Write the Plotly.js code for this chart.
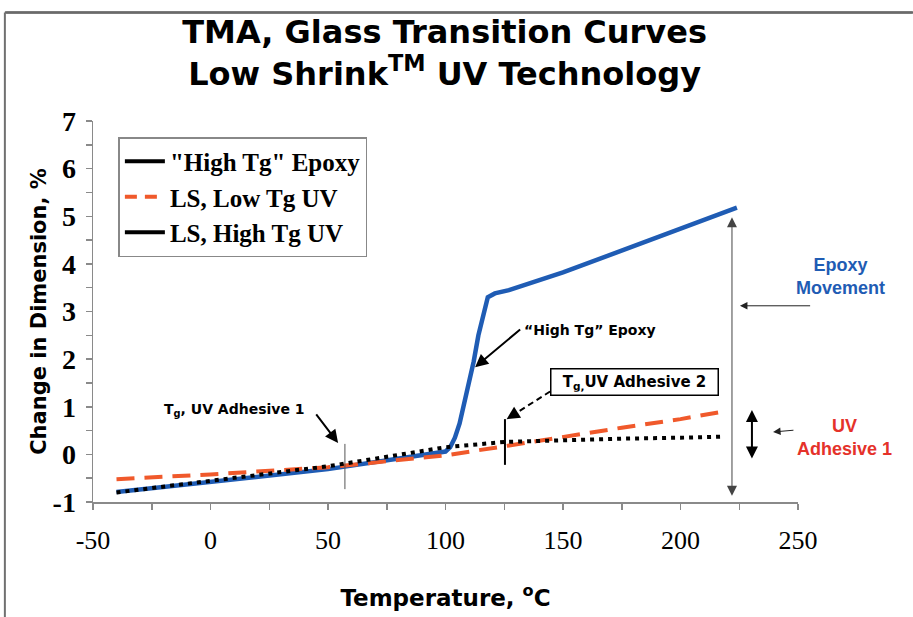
<!DOCTYPE html>
<html>
<head>
<meta charset="utf-8">
<script src="https://cdn.plot.ly/plotly-2.35.2.min.js"></script>
<style>html,body{margin:0;padding:0;background:#fff;}#chart{width:913px;height:617px;}</style>
</head>
<body>
<div id="chart"></div>
<script>
// Temperature (°C) and change in dimension (%) for each curve
const epoxyTemp = [-40, 0, 50, 100, 102, 104, 106, 109, 112, 114, 116, 118, 121, 127, 150, 175, 200, 224];
const epoxyDim  = [-0.79, -0.57, -0.31, 0.06, 0.15, 0.35, 0.65, 1.3, 1.95, 2.5, 2.95, 3.3, 3.38, 3.45, 3.82, 4.28, 4.73, 5.18];

const lowTgTemp = [-40, 0, 50, 100, 125, 150, 175, 200, 216];
const lowTgDim  = [-0.52, -0.42, -0.27, -0.02, 0.17, 0.37, 0.56, 0.74, 0.88];

const highTgTemp = [-40, 0, 25, 50, 75, 100, 125, 150, 175, 200, 217];
const highTgDim  = [-0.80, -0.55, -0.40, -0.25, -0.05, 0.15, 0.26, 0.30, 0.33, 0.35, 0.37];

const legendNames = ['"High Tg" Epoxy', 'LS, Low Tg UV', 'LS, High Tg UV'];

const xTickVals = [-50, 0, 50, 100, 150, 200, 250];
const yTickVals = [-1, 0, 1, 2, 3, 4, 5, 6, 7];

const BLUE = '#1f5cb4';
const ORANGE = '#f0592b';

const traces = [
  {x: epoxyTemp, y: epoxyDim, mode: 'lines', line: {color: BLUE, width: 4.5}, showlegend: false, hoverinfo: 'skip'},
  {x: lowTgTemp, y: lowTgDim, mode: 'lines', line: {color: ORANGE, width: 4, dash: '18px,10px'}, showlegend: false, hoverinfo: 'skip'},
  {x: highTgTemp, y: highTgDim, mode: 'lines', line: {color: '#000', width: 4, dash: '4px,5px'}, showlegend: false, hoverinfo: 'skip'},
  // legend entries (as drawn in the original key)
  {x: [null], y: [null], mode: 'lines', name: legendNames[0], line: {color: '#000', width: 4}},
  {x: [null], y: [null], mode: 'lines', name: legendNames[1], line: {color: ORANGE, width: 4, dash: '12px,8px'}},
  {x: [null], y: [null], mode: 'lines', name: legendNames[2], line: {color: '#000', width: 4}}
];

const heavy = 'DejaVu Sans, Liberation Sans, sans-serif';
const arial = 'Liberation Sans, Arial, sans-serif';
const serif = 'Liberation Serif, Times New Roman, serif';

const layout = {
  width: 913, height: 617,
  margin: {l: 93, r: 115, t: 121, b: 115},
  paper_bgcolor: '#fff', plot_bgcolor: '#fff',
  title: {
    text: 'TMA, Glass Transition Curves<br>Low Shrink<sup style="font-size:60%">TM</sup> UV Technology',
    font: {family: heavy, size: 32, color: '#000', weight: 'bold'},
    x: 0.487, xanchor: 'center', xref: 'container',
    y: 0.930, yanchor: 'top', yref: 'container'
  },
  xaxis: {
    range: [-50, 250], tickvals: xTickVals, ticktext: xTickVals.map(String),
    showgrid: false, zeroline: false, showline: true, linecolor: '#8a8a8a', linewidth: 1.5,
    ticks: 'outside', ticklen: 6, tickcolor: '#8a8a8a', tickwidth: 1.5,
    minor: {dtick: 25, tick0: -50, ticks: 'outside', ticklen: 6, tickcolor: '#8a8a8a', tickwidth: 1.5, showgrid: false},
    tickfont: {family: serif, size: 26, color: '#000'},
    ticklabelstandoff: 8,
    title: {text: 'Temperature, <sup>o</sup>C', font: {family: heavy, size: 23, color: '#000', weight: 'bold'}, standoff: 36}
  },
  yaxis: {
    range: [-1, 7], tickvals: yTickVals, ticktext: yTickVals.map(String),
    showgrid: false, zeroline: false, showline: true, linecolor: '#8a8a8a', linewidth: 1.5,
    ticks: 'outside', ticklen: 6, tickcolor: '#8a8a8a', tickwidth: 1.5,
    minor: {dtick: 0.5, tick0: -1, ticks: 'outside', ticklen: 6, tickcolor: '#8a8a8a', tickwidth: 1.5, showgrid: false},
    tickfont: {family: serif, size: 28, color: '#000', weight: 'bold'},
    ticklabelstandoff: 4,
    title: {text: 'Change in Dimension, %', font: {family: heavy, size: 21, color: '#000', weight: 'bold'}, standoff: 0}
  },
  legend: {
    x: 0.036, y: 0.958, xanchor: 'left', yanchor: 'top',
    bgcolor: '#fff', bordercolor: '#888', borderwidth: 1.5,
    font: {family: serif, size: 25, color: '#000', weight: 'bold'},
    tracegroupgap: 0, itemwidth: 40
  },
  shapes: [
    // page frame (top and left edges)
    {type: 'line', xref: 'paper', yref: 'paper', x0: -0.125, x1: 1.17, y0: 1.285, y1: 1.285, line: {color: '#666', width: 2.5}},
    {type: 'line', xref: 'paper', yref: 'paper', x0: -0.125, x1: -0.125, y0: 1.285, y1: -0.31, line: {color: '#707070', width: 2}},
    // Tg markers
    {type: 'line', xref: 'x', yref: 'y', x0: 57.2, x1: 57.2, y0: 0.22, y1: -0.73, line: {color: '#555', width: 1}},
    {type: 'line', xref: 'x', yref: 'y', x0: 125.3, x1: 125.3, y0: 0.74, y1: -0.22, line: {color: '#000', width: 2}},
    // dashed leader for Tg UV Adhesive 2
    {type: 'line', xref: 'x', yref: 'y', x0: 144.5, y0: 1.32, x1: 129.5, y1: 0.85, line: {color: '#000', width: 2, dash: '6px,4px'}}
  ],
  annotations: [
    // top edge of the page frame, also drawn in the annotation layer
    {x: 1.17, y: 1.285, xref: 'paper', yref: 'paper', ax: -913, ay: 0, axref: 'pixel', ayref: 'pixel', text: '',
     showarrow: true, arrowhead: 0, arrowwidth: 2, arrowcolor: '#6a6a6a', standoff: 0, startstandoff: 0},

    {x: 10.4, y: 0.93, xref: 'x', yref: 'y', text: 'T<sub>g</sub>, UV Adhesive 1', showarrow: false,
     font: {family: heavy, size: 14, color: '#000', weight: 'bold'}},
    {x: 54.3, y: 0.24, ax: 44.5, ay: 0.87, axref: 'x', ayref: 'y', xref: 'x', yref: 'y', text: '', showarrow: true,
     arrowhead: 2, arrowsize: 1.3, arrowwidth: 2, arrowcolor: '#000'},

    {x: 161.5, y: 2.61, xref: 'x', yref: 'y', text: '“High Tg” Epoxy', showarrow: false,
     font: {family: heavy, size: 14, color: '#000', weight: 'bold'}},
    {x: 112.6, y: 1.83, ax: 132.4, ay: 2.65, axref: 'x', ayref: 'y', xref: 'x', yref: 'y', text: '', showarrow: true,
     arrowhead: 2, arrowsize: 1.3, arrowwidth: 2, arrowcolor: '#000'},

    {x: 180.6, y: 1.53, xref: 'x', yref: 'y', text: 'T<sub>g,</sub>UV Adhesive 2', showarrow: false,
     font: {family: heavy, size: 15, color: '#000', weight: 'bold'},
     bordercolor: '#000', borderwidth: 1.5, borderpad: 3, bgcolor: '#fff', width: 160},
    {x: 126.0, y: 0.74, ax: 129.5, ay: 0.85, axref: 'x', ayref: 'y', xref: 'x', yref: 'y', text: '', showarrow: true,
     arrowhead: 2, arrowsize: 1.3, arrowwidth: 2, arrowcolor: '#000'},

    // epoxy movement double arrow
    {x: 221.9, y: 4.98, ax: 221.9, ay: -0.9, axref: 'x', ayref: 'y', xref: 'x', yref: 'y', text: '', showarrow: true,
     arrowhead: 2, startarrowhead: 2, arrowside: 'end+start', arrowsize: 2, startarrowsize: 2, arrowwidth: 1, arrowcolor: '#444'},
    {x: 1.06, y: 0.5906, xref: 'paper', yref: 'paper', xanchor: 'center', yanchor: 'middle', text: 'Epoxy<br>Movement', showarrow: false,
     font: {family: arial, size: 18, color: BLUE, weight: 'bold'}},
    {x: 225.3, y: 3.12, ax: 255.8, ay: 3.12, axref: 'x', ayref: 'y', xref: 'x', yref: 'y', text: '', showarrow: true,
     arrowhead: 2, arrowsize: 1.5, arrowwidth: 1, arrowcolor: '#222'},

    // UV adhesive 1 double arrow
    {x: 230.4, y: 0.93, ax: 230.4, ay: -0.12, axref: 'x', ayref: 'y', xref: 'x', yref: 'y', text: '', showarrow: true,
     arrowhead: 2, startarrowhead: 2, arrowside: 'end+start', arrowsize: 1.2, startarrowsize: 1.2, arrowwidth: 2, arrowcolor: '#000'},
    {x: 239.4, y: 0.47, ax: 248.7, ay: 0.51, axref: 'x', ayref: 'y', xref: 'x', yref: 'y', text: '', showarrow: true,
     arrowhead: 2, arrowsize: 1.5, arrowwidth: 1, arrowcolor: '#222'},
    {x: 1.066, y: 0.1706, xref: 'paper', yref: 'paper', xanchor: 'center', yanchor: 'middle', text: 'UV<br>Adhesive 1', showarrow: false,
     font: {family: arial, size: 18, color: '#e5322a', weight: 'bold'}}
  ]
};

Plotly.newPlot('chart', traces, layout, {displayModeBar: false, staticPlot: true});
</script>
</body>
</html>
